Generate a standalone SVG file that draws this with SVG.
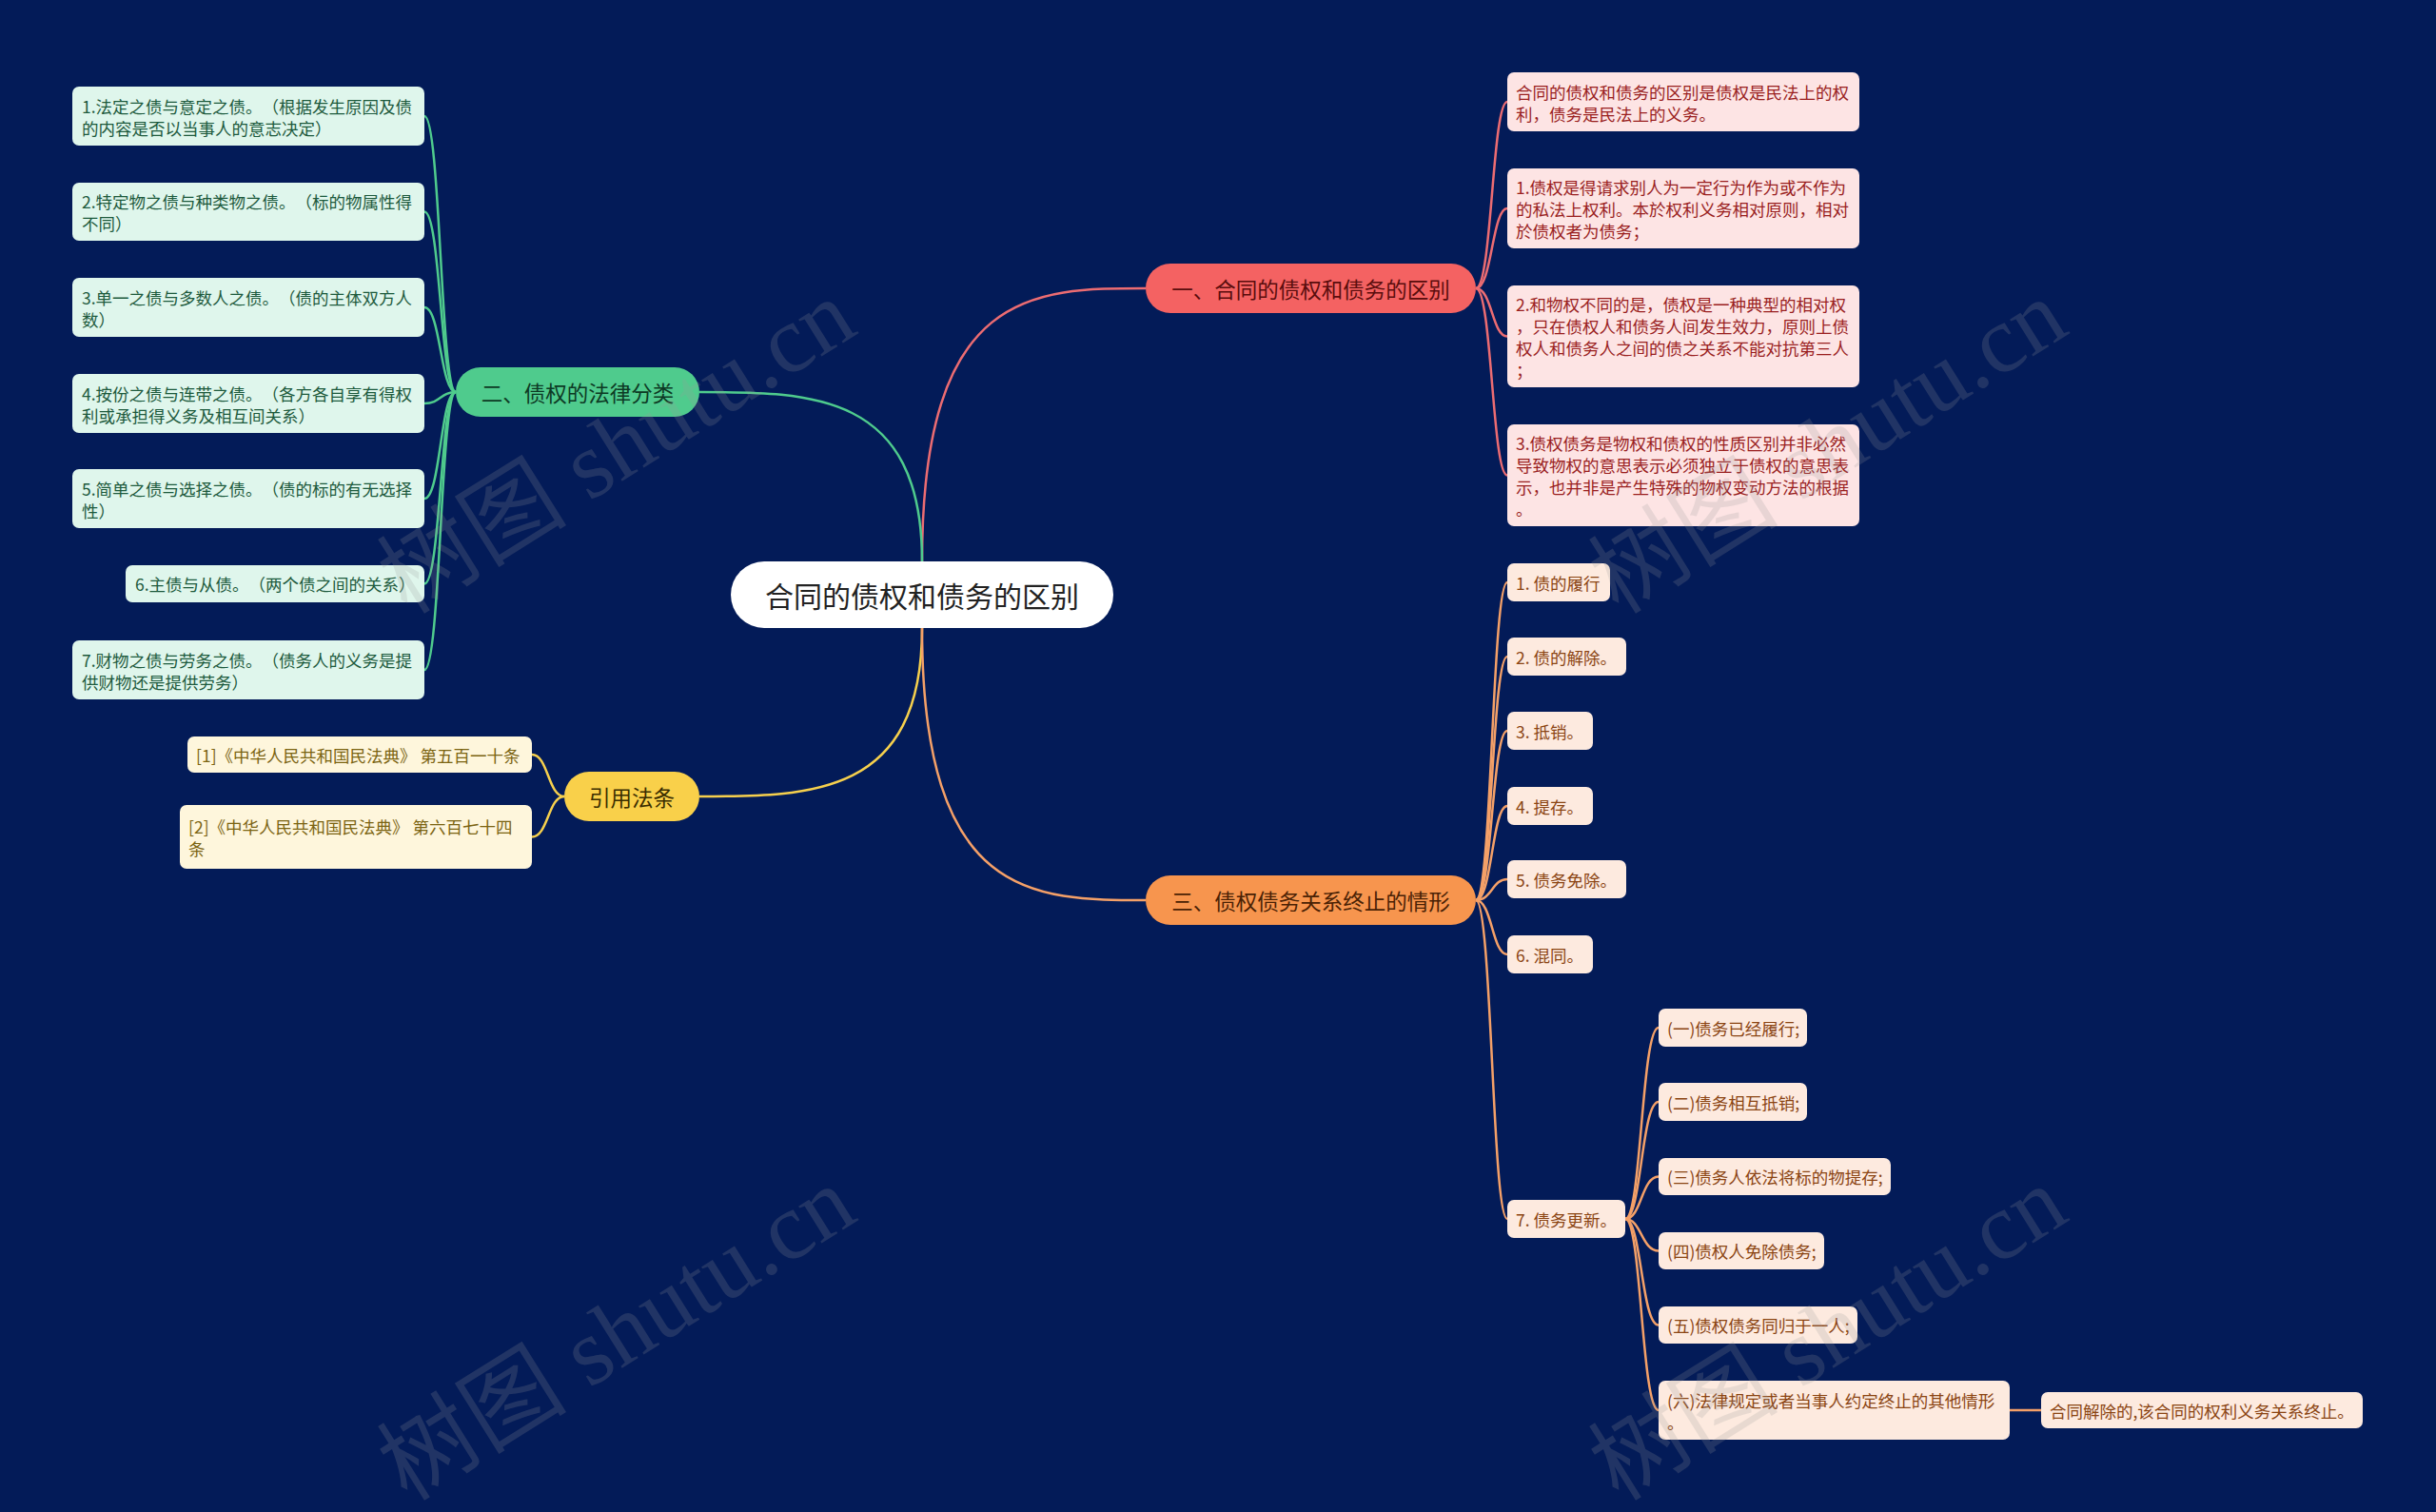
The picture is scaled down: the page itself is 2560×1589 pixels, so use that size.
<svg xmlns="http://www.w3.org/2000/svg" width="2560" height="1589" viewBox="0 0 2560 1589">
<style>
text{font-family:"Noto Sans CJK SC","Noto Sans",sans-serif;dominant-baseline:central;text-spacing-trim:space-all;font-feature-settings:"halt" 0,"chws" 0}
.leaf{font-size:17.5px}
.br{font-size:22.5px;text-anchor:middle}
.ctr{font-size:30px;text-anchor:middle;fill:#222}
.gl{fill:#dff6ec}.gt{fill:#1d5a3d}
.rl{fill:#fde4e4}.rt{fill:#9a1f1f}
.ol{fill:#fdeadf}.ot{fill:#8b4513}
.yl{fill:#fef6dc}.yt{fill:#7b6412}
.cg{stroke:#4fcb8d}.cr{stroke:#ec6c72}.co{stroke:#f4a068}.cy{stroke:#f6d04d}
#connectors path{fill:none;stroke-width:2.5}
.wm{font-family:"Liberation Serif","Noto Sans CJK SC",serif;font-size:100px;fill:#9a9a9a;opacity:0.2;dominant-baseline:auto}
</style>
<rect width="2560" height="1589" fill="#031b58"/>
<g id="connectors">
<path class="cr" d="M969 590 C969 303 1086 303 1204 303"/>
<path class="cg" d="M969 590 C969 412 852 412 735 412"/>
<path class="cy" d="M969 660 C969 837 852 837 735 837"/>
<path class="co" d="M969 660 C969 946 1086 946 1204 946"/>
<path class="cg" d="M479 412 C463 412 463 122 446 122"/>
<path class="cg" d="M479 412 C463 412 463 222.5 446 222.5"/>
<path class="cg" d="M479 412 C463 412 463 323 446 323"/>
<path class="cg" d="M479 412 C463 412 463 424 446 424"/>
<path class="cg" d="M479 412 C463 412 463 524 446 524"/>
<path class="cg" d="M479 412 C463 412 463 613.5 446 613.5"/>
<path class="cg" d="M479 412 C463 412 463 704 446 704"/>
<path class="cr" d="M1551 303 C1568 303 1568 107 1584 107"/>
<path class="cr" d="M1551 303 C1568 303 1568 219 1584 219"/>
<path class="cr" d="M1551 303 C1568 303 1568 353.5 1584 353.5"/>
<path class="cr" d="M1551 303 C1568 303 1568 499.5 1584 499.5"/>
<path class="co" d="M1551 946 C1568 946 1568 612 1584 612"/>
<path class="co" d="M1551 946 C1568 946 1568 690 1584 690"/>
<path class="co" d="M1551 946 C1568 946 1568 768 1584 768"/>
<path class="co" d="M1551 946 C1568 946 1568 847 1584 847"/>
<path class="co" d="M1551 946 C1568 946 1568 924 1584 924"/>
<path class="co" d="M1551 946 C1568 946 1568 1003 1584 1003"/>
<path class="co" d="M1551 946 C1568 946 1568 1281 1584 1281"/>
<path class="co" d="M1708 1281 C1725 1281 1725 1080 1743 1080"/>
<path class="co" d="M1708 1281 C1725 1281 1725 1158 1743 1158"/>
<path class="co" d="M1708 1281 C1725 1281 1725 1236.5 1743 1236.5"/>
<path class="co" d="M1708 1281 C1725 1281 1725 1314.5 1743 1314.5"/>
<path class="co" d="M1708 1281 C1725 1281 1725 1392.5 1743 1392.5"/>
<path class="co" d="M1708 1281 C1725 1281 1725 1482 1743 1482"/>
<path class="co" d="M2112 1482 L2145 1482"/>
<path class="cy" d="M593 837 C576 837 576 793 559 793"/>
<path class="cy" d="M593 837 C576 837 576 879.5 559 879.5"/>
</g>
<g id="center"><rect x="768" y="590" width="402" height="70" rx="35" fill="#fff"/><text class="ctr" x="969" y="625">合同的债权和债务的区别</text></g>
<g id="b1"><rect x="1204" y="277" width="347" height="52" rx="26" fill="#f46262"/><text class="br" x="1377.5" y="303" fill="#5a0d0d">一、合同的债权和债务的区别</text></g>
<g id="b2"><rect x="479" y="386" width="256" height="52" rx="26" fill="#4fcb8d"/><text class="br" x="607" y="412" fill="#0d3a24">二、债权的法律分类</text></g>
<g id="b3"><rect x="1204" y="920" width="347" height="52" rx="26" fill="#f7954e"/><text class="br" x="1377.5" y="946" fill="#4a2205">三、债权债务关系终止的情形</text></g>
<g id="b4"><rect x="593" y="811" width="142" height="52" rx="26" fill="#f9d04a"/><text class="br" x="664" y="837" fill="#3a2d00">引用法条</text></g>

<g id="g1"><rect class="gl" x="76" y="91" width="370" height="62" rx="7"/><text class="leaf gt" x="86"><tspan x="86" y="110.5">1.法定之债与意定之债。（根据发生原因及债</tspan><tspan x="86" y="133.5">的内容是否以当事人的意志决定）</tspan></text></g>
<g id="g2"><rect class="gl" x="76" y="192" width="370" height="61" rx="7"/><text class="leaf gt" x="86"><tspan x="86" y="211">2.特定物之债与种类物之债。（标的物属性得</tspan><tspan x="86" y="234">不同）</tspan></text></g>
<g id="g3"><rect class="gl" x="76" y="292" width="370" height="62" rx="7"/><text class="leaf gt" x="86"><tspan x="86" y="311.5">3.单一之债与多数人之债。（债的主体双方人</tspan><tspan x="86" y="334.5">数）</tspan></text></g>
<g id="g4"><rect class="gl" x="76" y="393" width="370" height="62" rx="7"/><text class="leaf gt" x="86"><tspan x="86" y="412.5">4.按份之债与连带之债。（各方各自享有得权</tspan><tspan x="86" y="435.5">利或承担得义务及相互间关系）</tspan></text></g>
<g id="g5"><rect class="gl" x="76" y="493" width="370" height="62" rx="7"/><text class="leaf gt" x="86"><tspan x="86" y="512.5">5.简单之债与选择之债。（债的标的有无选择</tspan><tspan x="86" y="535.5">性）</tspan></text></g>
<g id="g6"><rect class="gl" x="132" y="594" width="314" height="39" rx="7"/><text class="leaf gt" x="142" y="613.5">6.主债与从债。（两个债之间的关系）</text></g>
<g id="g7"><rect class="gl" x="76" y="673" width="370" height="62" rx="7"/><text class="leaf gt" x="86"><tspan x="86" y="692.5">7.财物之债与劳务之债。（债务人的义务是提</tspan><tspan x="86" y="715.5">供财物还是提供劳务）</tspan></text></g>

<g id="r0"><rect class="rl" x="1584" y="76" width="370" height="62" rx="7"/><text class="leaf rt" x="1593"><tspan x="1593" y="95.5">合同的债权和债务的区别是债权是民法上的权</tspan><tspan x="1593" y="118.5">利，债务是民法上的义务。</tspan></text></g>
<g id="r1"><rect class="rl" x="1584" y="177" width="370" height="84" rx="7"/><text class="leaf rt" x="1593"><tspan x="1593" y="196">1.债权是得请求别人为一定行为作为或不作为</tspan><tspan x="1593" y="219">的私法上权利。本於权利义务相对原则，相对</tspan><tspan x="1593" y="242">於债权者为债务；</tspan></text></g>
<g id="r2"><rect class="rl" x="1584" y="300" width="370" height="107" rx="7"/><text class="leaf rt" x="1593"><tspan x="1593" y="319">2.和物权不同的是，债权是一种典型的相对权</tspan><tspan x="1593" y="342">，只在债权人和债务人间发生效力，原则上债</tspan><tspan x="1593" y="365">权人和债务人之间的债之关系不能对抗第三人</tspan><tspan x="1593" y="388">；</tspan></text></g>
<g id="r3"><rect class="rl" x="1584" y="446" width="370" height="107" rx="7"/><text class="leaf rt" x="1593"><tspan x="1593" y="465">3.债权债务是物权和债权的性质区别并非必然</tspan><tspan x="1593" y="488">导致物权的意思表示必须独立于债权的意思表</tspan><tspan x="1593" y="511">示，也并非是产生特殊的物权变动方法的根据</tspan><tspan x="1593" y="534">。</tspan></text></g>

<g id="o1"><rect class="ol" x="1584" y="592" width="108" height="40" rx="7"/><text class="leaf ot" x="1593" y="612">1. 债的履行</text></g>
<g id="o2"><rect class="ol" x="1584" y="670" width="125" height="40" rx="7"/><text class="leaf ot" x="1593" y="690">2. 债的解除。</text></g>
<g id="o3"><rect class="ol" x="1584" y="748" width="90" height="40" rx="7"/><text class="leaf ot" x="1593" y="768">3. 抵销。</text></g>
<g id="o4"><rect class="ol" x="1584" y="827" width="90" height="40" rx="7"/><text class="leaf ot" x="1593" y="847">4. 提存。</text></g>
<g id="o5"><rect class="ol" x="1584" y="904" width="125" height="40" rx="7"/><text class="leaf ot" x="1593" y="924">5. 债务免除。</text></g>
<g id="o6"><rect class="ol" x="1584" y="983" width="90" height="40" rx="7"/><text class="leaf ot" x="1593" y="1003">6. 混同。</text></g>
<g id="o7"><rect class="ol" x="1584" y="1261" width="124" height="40" rx="7"/><text class="leaf ot" x="1593" y="1281">7. 债务更新。</text></g>

<g id="s1"><rect class="ol" x="1743" y="1060" width="156" height="40" rx="7"/><text class="leaf ot" x="1752" y="1080">(一)债务已经履行;</text></g>
<g id="s2"><rect class="ol" x="1743" y="1138" width="156" height="40" rx="7"/><text class="leaf ot" x="1752" y="1158">(二)债务相互抵销;</text></g>
<g id="s3"><rect class="ol" x="1743" y="1217" width="244" height="39" rx="7"/><text class="leaf ot" x="1752" y="1236.5">(三)债务人依法将标的物提存;</text></g>
<g id="s4"><rect class="ol" x="1743" y="1295" width="174" height="39" rx="7"/><text class="leaf ot" x="1752" y="1314.5">(四)债权人免除债务;</text></g>
<g id="s5"><rect class="ol" x="1743" y="1373" width="209" height="39" rx="7"/><text class="leaf ot" x="1752" y="1392.5">(五)债权债务同归于一人;</text></g>
<g id="s6"><rect class="ol" x="1743" y="1451" width="369" height="62" rx="7"/><text class="leaf ot" x="1752"><tspan x="1752" y="1470.5">(六)法律规定或者当事人约定终止的其他情形</tspan><tspan x="1752" y="1493.5">。</tspan></text></g>
<g id="s7"><rect class="ol" x="2145" y="1463" width="338" height="38" rx="7"/><text class="leaf ot" x="2154" y="1482">合同解除的,该合同的权利义务关系终止。</text></g>

<g id="y1"><rect class="yl" x="197" y="774" width="362" height="38" rx="7"/><text class="leaf yt" x="206" y="793">[1]《中华人民共和国民法典》 第五百一十条</text></g>
<g id="y2"><rect class="yl" x="189" y="846" width="370" height="67" rx="7"/><text class="leaf yt" x="198"><tspan x="198" y="868">[2]《中华人民共和国民法典》 第六百七十四</tspan><tspan x="198" y="891">条</tspan></text></g>

<g id="watermark">
<text class="wm" transform="translate(666 498) rotate(-32)" text-anchor="middle">树图 shutu.cn</text>
<text class="wm" transform="translate(1939 498) rotate(-32)" text-anchor="middle">树图 shutu.cn</text>
<text class="wm" transform="translate(666 1430) rotate(-32)" text-anchor="middle">树图 shutu.cn</text>
<text class="wm" transform="translate(1939 1430) rotate(-32)" text-anchor="middle">树图 shutu.cn</text>
</g>
</svg>
